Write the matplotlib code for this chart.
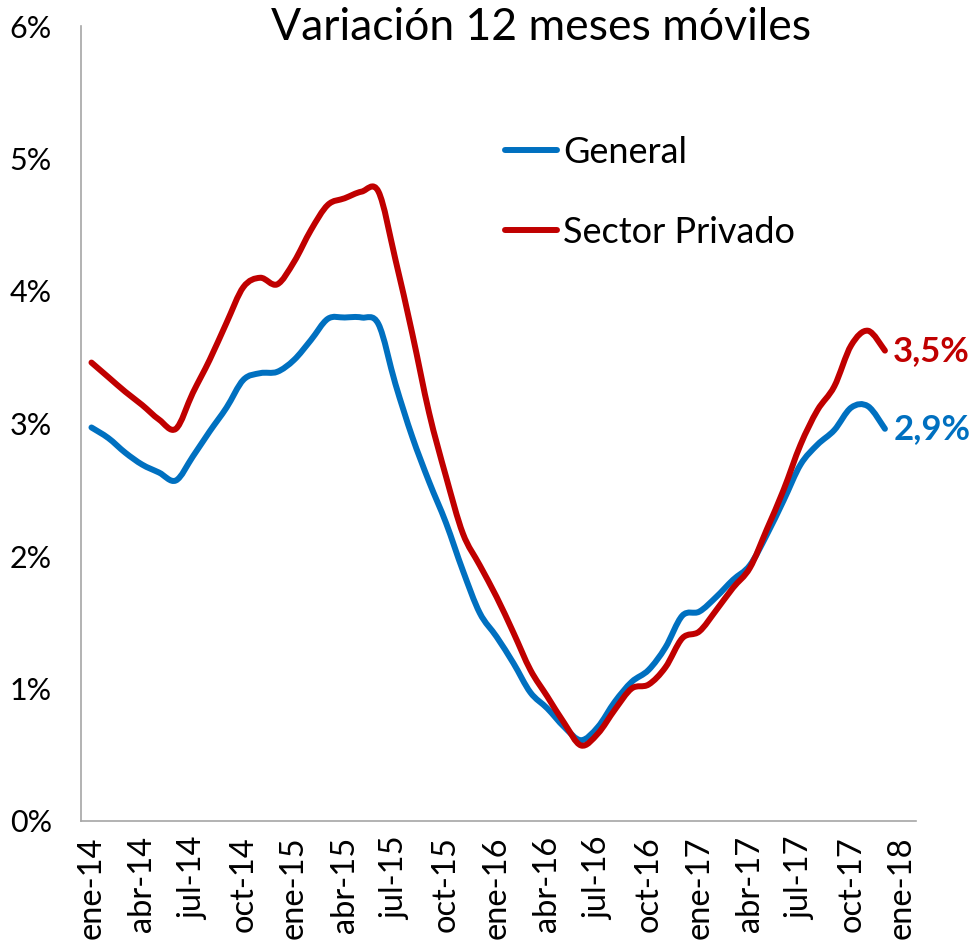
import numpy as np
import matplotlib
matplotlib.use("Agg")
import matplotlib.pyplot as plt
from matplotlib.path import Path
from matplotlib.patches import PathPatch
from matplotlib.lines import Line2D
from matplotlib.ticker import PercentFormatter

# monthly values, ene-14 .. dic-17 (percent)
general = [2.97, 2.89, 2.78, 2.69, 2.63, 2.57, 2.75, 2.94, 3.12, 3.33, 3.38, 3.39,
           3.48, 3.63, 3.79, 3.80, 3.80, 3.75, 3.30, 2.90, 2.56, 2.25, 1.89, 1.57,
           1.39, 1.19, 0.97, 0.85, 0.71, 0.61, 0.71, 0.90, 1.05, 1.14, 1.31, 1.55,
           1.58, 1.69, 1.82, 1.93, 2.16, 2.42, 2.69, 2.84, 2.95, 3.12, 3.13, 2.96]
privado = [3.46, 3.35, 3.24, 3.14, 3.03, 2.96, 3.23, 3.48, 3.76, 4.03, 4.10, 4.05,
           4.22, 4.46, 4.65, 4.70, 4.75, 4.75, 4.24, 3.68, 3.08, 2.60, 2.17, 1.93,
           1.69, 1.42, 1.14, 0.94, 0.74, 0.57, 0.66, 0.84, 1.00, 1.03, 1.16, 1.38,
           1.43, 1.59, 1.76, 1.91, 2.20, 2.50, 2.84, 3.10, 3.28, 3.59, 3.70, 3.55]
series_names = ["General", "Sector Privado"]
end_labels = ["2,9%", "3,5%"]
tick_labels = ["ene-14", "abr-14", "jul-14", "oct-14", "ene-15", "abr-15", "jul-15",
               "oct-15", "ene-16", "abr-16", "jul-16", "oct-16", "ene-17", "abr-17",
               "jul-17", "oct-17", "ene-18"]

BLUE = "#0070C0"
RED = "#C00000"
FONT = "Lato"
plt.rcParams["font.family"] = [FONT, "DejaVu Sans"]


def smooth_path(x, y):
    # Excel-like smoothed line: cubic bezier through every point
    pts = np.column_stack([x, y])
    n = len(pts)
    verts = [pts[0]]
    codes = [Path.MOVETO]
    for i in range(n - 1):
        prev = pts[i - 1] if i > 0 else pts[i]
        nxt = pts[i + 2] if i + 2 < n else pts[i + 1]
        c1 = pts[i] + (pts[i + 1] - prev) / 6
        c2 = pts[i + 1] - (nxt - pts[i]) / 6
        verts += [c1, c2, pts[i + 1]]
        codes += [Path.CURVE4] * 3
    return Path(verts, codes)


fig = plt.figure(figsize=(9.71, 9.5), dpi=100)
ax = fig.add_axes([81 / 971, 1 - 821 / 950, 835 / 971, 795 / 950])

x = np.arange(len(general))
lw = 4.3
for vals, color in [(general, BLUE), (privado, RED)]:
    ax.add_patch(PathPatch(smooth_path(x, vals), fill=False, edgecolor=color,
                           lw=lw, capstyle="round", joinstyle="round"))

ax.set_xlim(-0.62, 48.84)
ax.set_ylim(0, 6)
ax.set_xticks(np.arange(0, 49, 3))
ax.set_xticklabels(tick_labels, rotation=90)
ax.set_yticks(range(7))
ax.yaxis.set_major_formatter(PercentFormatter(decimals=0))
ax.tick_params(axis="both", length=0, labelsize=22, colors="#000000")
ax.tick_params(axis="x", labelsize=23.5, pad=11)
ax.tick_params(axis="y", pad=21)

for side in ["top", "right"]:
    ax.spines[side].set_visible(False)
for side in ["left", "bottom"]:
    ax.spines[side].set_color("#A6A6A6")
    ax.spines[side].set_linewidth(1.2)

# end-of-series labels
for vals, color, lab in [(general, BLUE, end_labels[0]), (privado, RED, end_labels[1])]:
    ax.annotate(lab, xy=(x[-1], vals[-1]), xytext=(6, 0), textcoords="offset points",
                ha="left", va="center", fontsize=25, fontweight="bold", color=color,
                annotation_clip=False)

handles = [Line2D([], [], color=BLUE, lw=lw, solid_capstyle="round"),
           Line2D([], [], color=RED, lw=lw, solid_capstyle="round")]
fig.legend(handles, series_names, loc="upper left", bbox_to_anchor=(505 / 971, 1 - 136 / 950),
           frameon=False, fontsize=26, handlelength=1.45, handletextpad=0.15,
           labelspacing=1.3, borderpad=0, borderaxespad=0)

fig.text(541 / 971, 1 - 27 / 950, "Variación 12 meses móviles", ha="center", va="center",
         fontsize=32, color="#000000")

fig.savefig("out.png", dpi=100)
